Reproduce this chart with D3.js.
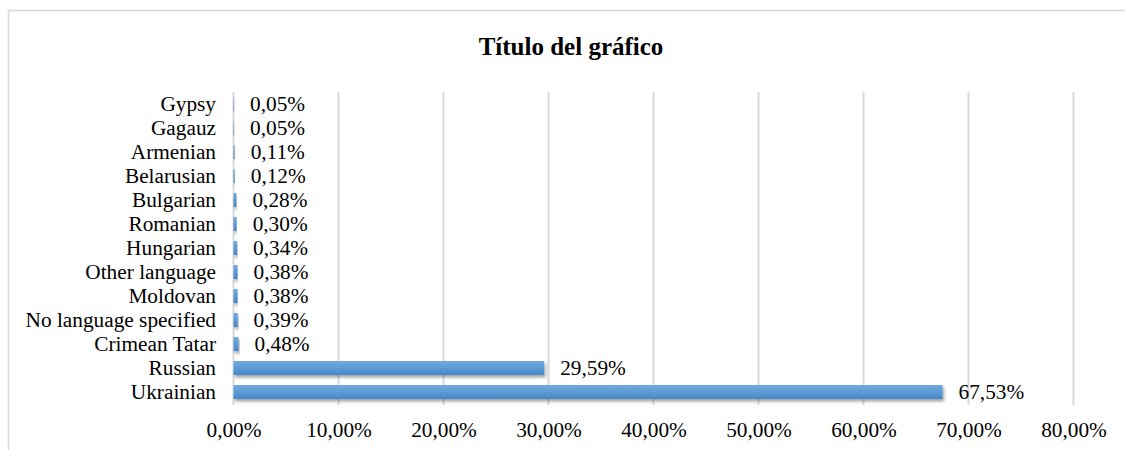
<!DOCTYPE html>
<html>
<head>
<meta charset="utf-8">
<script src="https://cdn.jsdelivr.net/npm/d3@7"></script>
<style>
  body { margin: 0; background: #fff; }
  svg text { font-family: "Liberation Serif", "Times New Roman", serif; fill: #000; }
</style>
</head>
<body>
<svg id="chart" width="1125" height="450"></svg>
<script>
const languages = ["Gypsy", "Gagauz", "Armenian", "Belarusian", "Bulgarian", "Romanian",
    "Hungarian", "Other language", "Moldovan", "No language specified", "Crimean Tatar",
    "Russian", "Ukrainian"];
const shares = [0.05, 0.05, 0.11, 0.12, 0.28, 0.30, 0.34, 0.38, 0.38, 0.39, 0.48, 29.59, 67.53];
const tick_values = [0, 10, 20, 30, 40, 50, 60, 70, 80];
const chart_title = "Título del gráfico";

const svg = d3.select("#chart");
const plot_left = 233.5, plot_right = 1073.5, plot_top = 92, plot_bottom = 404;
const font_size = "21.3px";

const fmt = v => d3.format(".2f")(v).replace(".", ",") + "%";

// chart frame (cropped on the right and bottom like the original)
svg.append("rect")
    .attr("x", 8.5).attr("y", 10.5)
    .attr("width", 1140).attr("height", 460)
    .attr("fill", "#fff")
    .attr("stroke", "#d9d9d9")
    .attr("stroke-width", 1.5);

svg.append("text")
    .attr("x", 571).attr("y", 55)
    .attr("text-anchor", "middle")
    .style("font-size", "25px")
    .style("font-weight", "bold")
    .text(chart_title);

let defs = svg.append("defs");
let grad = defs.append("linearGradient")
    .attr("id", "bar-grad")
    .attr("x1", 0).attr("y1", 0).attr("x2", 0).attr("y2", 1);
grad.append("stop").attr("offset", "0%").attr("stop-color", "#72aae0");
grad.append("stop").attr("offset", "50%").attr("stop-color", "#5b9bd5");
grad.append("stop").attr("offset", "100%").attr("stop-color", "#4686c6");

let shadow = defs.append("filter").attr("id", "bar-shadow")
    .attr("x", "-10%").attr("y", "-50%").attr("width", "120%").attr("height", "200%");
shadow.append("feDropShadow")
    .attr("dx", 1.5).attr("dy", 2.5).attr("stdDeviation", 1.5)
    .attr("flood-color", "#000").attr("flood-opacity", 0.35);

let x_scale = d3.scaleLinear()
    .domain([0, 80])
    .range([plot_left, plot_right]);

let y_scale = d3.scaleBand()
    .domain(languages)
    .range([plot_top, plot_bottom])
    .paddingInner(0.417)
    .paddingOuter(0.2085);

// vertical gridlines
svg.append("g")
    .selectAll("line")
    .data(tick_values)
    .join("line")
    .attr("x1", d => x_scale(d)).attr("x2", d => x_scale(d))
    .attr("y1", plot_top).attr("y2", plot_bottom + 1)
    .attr("stroke", "#d9d9d9")
    .attr("stroke-width", 2);

// x axis tick labels
let x_axis = d3.axisBottom(x_scale)
    .tickValues(tick_values)
    .tickSize(0)
    .tickPadding(0)
    .tickFormat(fmt);
let x_axis_group = svg.append("g")
    .attr("transform", "translate(0," + 437 + ")")
    .call(x_axis);
x_axis_group.select(".domain").remove();
x_axis_group.selectAll("text")
    .attr("y", 0).attr("dy", 0)
    .style("font-size", font_size)
    .style("font-family", "'Liberation Serif', 'Times New Roman', serif")
    .attr("fill", "#000");

// category labels
let y_axis = d3.axisLeft(y_scale).tickSize(0).tickPadding(0);
let y_axis_group = svg.append("g")
    .attr("transform", "translate(216,0)")
    .call(y_axis);
y_axis_group.select(".domain").remove();
y_axis_group.selectAll("text")
    .attr("dy", "0.33em")
    .style("font-size", font_size)
    .style("font-family", "'Liberation Serif', 'Times New Roman', serif")
    .attr("fill", "#000");

// bars
svg.append("g")
    .selectAll("rect")
    .data(languages)
    .join("rect")
    .attr("x", x_scale(0))
    .attr("y", d => y_scale(d))
    .attr("width", (d, i) => x_scale(shares[i]) - x_scale(0))
    .attr("height", y_scale.bandwidth())
    .attr("fill", "url(#bar-grad)")
    .attr("filter", "url(#bar-shadow)");

// value labels
svg.append("g")
    .selectAll("text")
    .data(languages)
    .join("text")
    .attr("x", (d, i) => x_scale(shares[i]) + 16)
    .attr("y", d => y_scale(d) + y_scale.bandwidth() / 2)
    .attr("dy", "0.35em")
    .style("font-size", font_size)
    .text((d, i) => fmt(shares[i]));
</script>
</body>
</html>
